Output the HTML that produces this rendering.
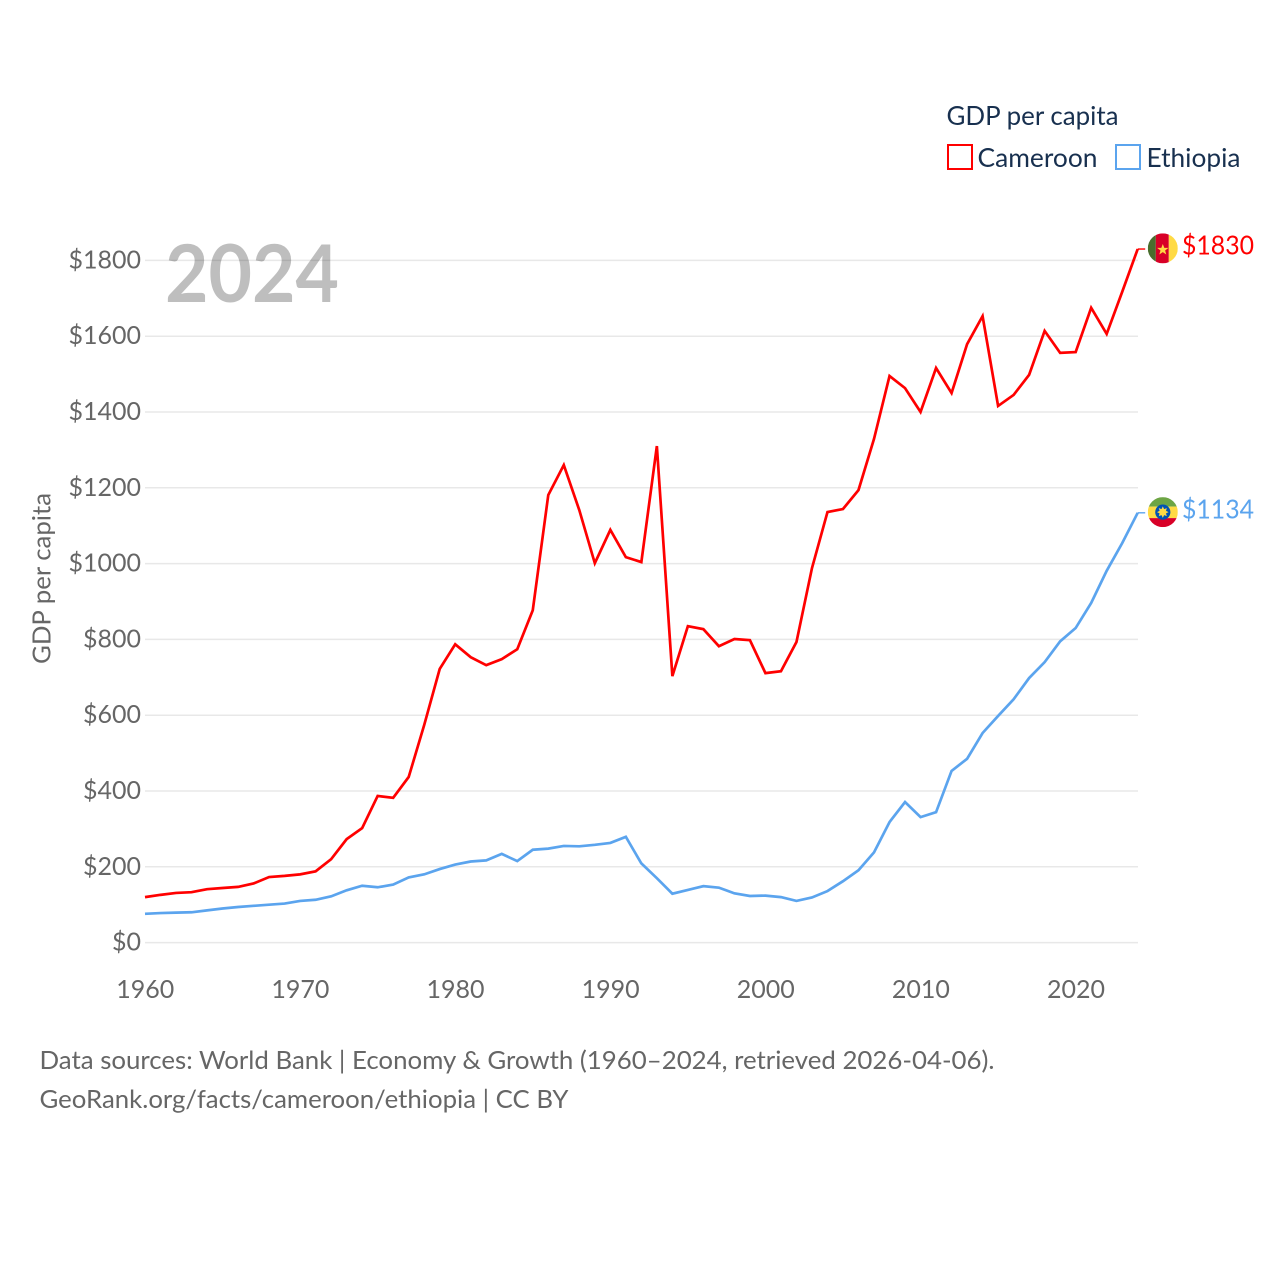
<!DOCTYPE html>
<html lang="en">
<head>
<meta charset="utf-8">
<title>GDP per capita: Cameroon and Ethiopia</title>
<style>
html,body{margin:0;padding:0;background:#fff;width:1280px;height:1280px;overflow:hidden}
svg{display:block}
text{font-family:Lato,Carlito,"Liberation Sans",sans-serif;fill:#666}
</style>
</head>
<body>
<svg id="chart" xmlns="http://www.w3.org/2000/svg" width="1280" height="1280" viewBox="0 0 1280 1280">
  <defs>
    <clipPath id="flag-clip"><circle cx="0" cy="0" r="15"></circle></clipPath>
  </defs>
  <g id="grid"></g>
  <text x="165" y="302" font-size="80" font-weight="700" textLength="174" lengthAdjust="spacingAndGlyphs" style="fill:#000;opacity:.25">2024</text>
  <g id="y-ticks"></g>
  <g id="x-ticks"></g>
  <text transform="translate(50.5,578.5) rotate(-90)" text-anchor="middle" font-size="25.5" textLength="171" lengthAdjust="spacingAndGlyphs">GDP per capita</text>
  <g id="series"></g>
  <g id="flag-cameroon">
    <g clip-path="url(#flag-clip)">
      <rect x="-15" y="-15" width="8" height="30" fill="#496e2d"></rect>
      <rect x="-7" y="-15" width="13" height="30" fill="#d80027"></rect>
      <rect x="6" y="-15" width="9" height="30" fill="#ffda44"></rect>
      <polygon points="0,-4.3 1.5,-0.4 5.7,-0.4 2.3,2.2 3.5,6.2 0,3.8 -3.5,6.2 -2.3,2.2 -5.7,-0.4 -1.5,-0.4" fill="#ffda44"></polygon>
    </g>
  </g>
  <g id="flag-ethiopia">
    <g clip-path="url(#flag-clip)">
      <rect x="-15" y="-15" width="30" height="9.5" fill="#6da544"></rect>
      <rect x="-15" y="-5.5" width="30" height="11.5" fill="#ffda44"></rect>
      <rect x="-15" y="6" width="30" height="9" fill="#d80027"></rect>
      <circle cx="0" cy="0" r="7.6" fill="#0052b4"></circle>
      <polygon points="0,-5.8 1.3,-3 4,-4 3.2,-1.2 5.8,0 3.2,1.2 4,4 1.3,3 0,5.8 -1.3,3 -4,4 -3.2,1.2 -5.8,0 -3.2,-1.2 -4,-4 -1.3,-3" fill="#ffda44"></polygon>
    </g>
  </g>
  <g id="end-labels"></g>
  <g>
    <text x="946.5" y="125" font-size="26" textLength="172" lengthAdjust="spacingAndGlyphs" style="fill:#18304f">GDP per capita</text>
    <g>
      <rect x="948" y="145" width="24" height="24" fill="#fff" stroke="#ff0000" stroke-width="2"></rect>
      <text x="977.5" y="167" font-size="26" textLength="120" lengthAdjust="spacingAndGlyphs" style="fill:#18304f">Cameroon</text>
    </g>
    <g>
      <rect x="1116" y="145" width="24" height="24" fill="#fff" stroke="#5ba4ee" stroke-width="2"></rect>
      <text x="1146.5" y="167" font-size="26" textLength="94" lengthAdjust="spacingAndGlyphs" style="fill:#18304f">Ethiopia</text>
    </g>
  </g>
  <text x="39.5" y="1069" font-size="25.5" textLength="955" lengthAdjust="spacingAndGlyphs">Data sources: World Bank | Economy &amp; Growth (1960–2024, retrieved 2026-04-06).</text>
  <text x="39.5" y="1108" font-size="25.5" textLength="529" lengthAdjust="spacingAndGlyphs">GeoRank.org/facts/cameroon/ethiopia | CC BY</text>
</svg>
<script>
const startYear = 1960;
const cameroon = [120,126,131,133,141,144,147,156,173,176,180,188,220,273,302,387,382,437,574,722,787,753,732,748,774,877,1181,1260,1141,1001,1089,1017,1004,1310,703,835,827,782,801,798,711,716,793,988,1136,1144,1194,1329,1495,1463,1400,1516,1450,1579,1653,1416,1445,1498,1614,1556,1558,1675,1606,1717,1830];
const ethiopia = [76,78,79,80,85,90,94,97,100,103,110,113,122,138,150,146,153,172,180,194,206,214,217,234,215,245,248,255,254,258,263,279,209,170,129,139,149,145,130,123,124,120,110,119,136,162,191,238,318,371,331,344,453,485,553,598,642,698,740,795,830,896,981,1054,1134];
const yTicks = [0,200,400,600,800,1000,1200,1400,1600,1800];
const xTicks = [1960,1970,1980,1990,2000,2010,2020];

const NS = 'http://www.w3.org/2000/svg';
const xScale = year => 145 + (year - 1960) * (1137.7 - 145) / 64;
const yScale = value => 942.6 - value * (942.6 - 260.4) / 1800;

function make(tag, parent, attrs) {
  const el = document.createElementNS(NS, tag);
  for (const k in attrs) el.setAttribute(k, attrs[k]);
  parent.appendChild(el);
  return el;
}

const gridG = document.getElementById('grid');
const yG = document.getElementById('y-ticks');
const xG = document.getElementById('x-ticks');
const seriesG = document.getElementById('series');
const labelsG = document.getElementById('end-labels');

yTicks.forEach(t => {
  const line = make('line', gridG, {x1:145, x2:1138, y1:yScale(t), y2:yScale(t), stroke:'#e8e8e8', 'stroke-width':1.5});
  
  
  const label = make('text', yG, {x:141, y:yScale(t) + 8, 'text-anchor':'end', 'font-size':25});
  
  
  label.textContent = '$' + t;
});

xTicks.forEach(t => {
  const label = make('text', xG, {x:xScale(t) + 0.3, y:998, 'text-anchor':'middle', 'font-size':25});
  
  
  label.textContent = t;
});

function linePoints(values) {
  return values.map((v, i) => xScale(startYear + i).toFixed(2) + ',' + yScale(v).toFixed(2)).join(' ');
}

const redLine = make('polyline', seriesG, {points:linePoints(cameroon), fill:'none', stroke:'#ff0000', 'stroke-width':2.7, 'stroke-linejoin':'miter'});


const blueLine = make('polyline', seriesG, {points:linePoints(ethiopia), fill:'none', stroke:'#5ba4ee', 'stroke-width':2.7, 'stroke-linejoin':'miter'});



const lastRed = cameroon[cameroon.length - 1];
const lastBlue = ethiopia[ethiopia.length - 1];
const endX = xScale(startYear + cameroon.length - 1);

const redConn = make('line', seriesG, {x1:endX, x2:endX + 7.5, y1:yScale(lastRed), y2:yScale(lastRed), stroke:'#ff0000', 'stroke-width':1.4});


const blueConn = make('line', seriesG, {x1:endX, x2:endX + 7.5, y1:yScale(lastBlue), y2:yScale(lastBlue), stroke:'#5ba4ee', 'stroke-width':1.4});



document.getElementById('flag-cameroon').setAttribute('transform', 'translate(1162.8,' + (yScale(lastRed) - 0.7) + ')');
document.getElementById('flag-ethiopia').setAttribute('transform', 'translate(1162.8,' + (yScale(lastBlue) - 0.7) + ')');

const redLabel = make('text', labelsG, {x:1182, y:yScale(lastRed) + 5.5, 'font-size':26, textLength:72, lengthAdjust:'spacingAndGlyphs', style:'fill:#ff0000'});


redLabel.textContent = '$' + lastRed;
const blueLabel = make('text', labelsG, {x:1182, y:yScale(lastBlue) + 5.5, 'font-size':26, textLength:72, lengthAdjust:'spacingAndGlyphs', style:'fill:#5ba4ee'});


blueLabel.textContent = '$' + lastBlue;
</script>
</body>
</html>
